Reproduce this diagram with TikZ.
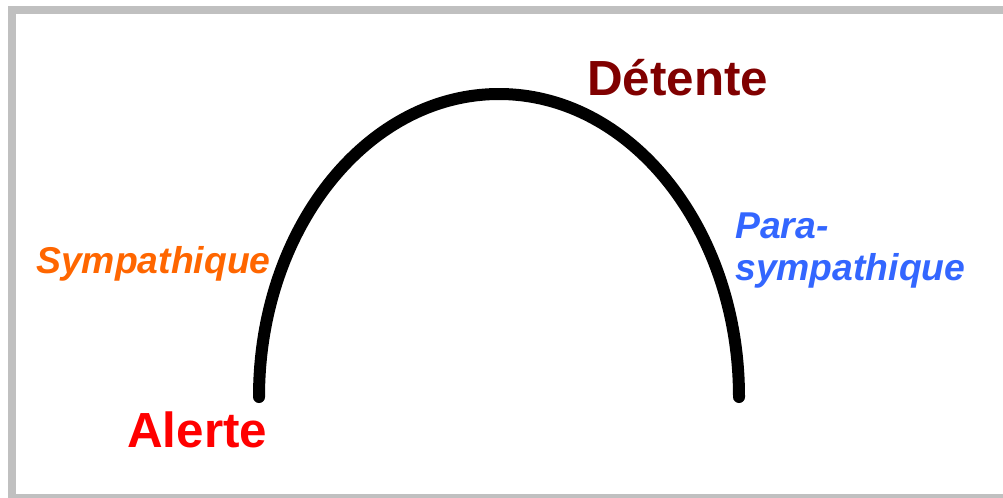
\documentclass[tikz,border=0pt]{standalone}
\usepackage{fontspec}
\setmainfont{Liberation Sans}
\usepackage{tikz}

\begin{document}
\begin{tikzpicture}[x=0.75pt,y=0.75pt,yscale=-1,xscale=1]
\useasboundingbox (0,0) rectangle (1003,497);
\clip (0,0) rectangle (1003,497);

%Straight Lines [frame]
\draw [color={rgb, 255:red, 192; green, 192; blue, 192 }  ,draw opacity=1 ][line width=6.4]  (1003,10) -- (12,10) -- (12,498.5) -- (1003,498.5) ;

%Curve Lines [arch]
\coordinate (alerteEnd) at (259,397);
\draw [line width=9, line cap=round]  (alerteEnd) arc [start angle=180, end angle=360, x radius=240, y radius=303] coordinate (detenteEnd) ;

% Text Node
\draw (587,95) node [anchor=base west][inner sep=0pt]  [color={rgb, 255:red, 128; green, 0; blue, 0 }  ,opacity=1 ,font=\fontsize{37}{44}\selectfont\bfseries] (detente) {Détente};
% Text Node
\draw (127,447) node [anchor=base west][inner sep=0pt]  [color={rgb, 255:red, 255; green, 0; blue, 0 }  ,opacity=1 ,font=\fontsize{37}{44}\selectfont\bfseries] (alerte) {Alerte};
% Text Node
\draw (36,273) node [anchor=base west][inner sep=0pt]  [color={rgb, 255:red, 255; green, 102; blue, 0 }  ,opacity=1 ,font=\fontsize{28}{31}\selectfont\bfseries\itshape] (sympa) {Sympathique};
% Text Node
\draw (735,213) node [anchor=north west][inner sep=0pt][align=left]  [color={rgb, 255:red, 51; green, 102; blue, 255 }  ,opacity=1 ,font=\fontsize{28}{31}\selectfont\bfseries\itshape] (para) {Para-\\sympathique};

\end{tikzpicture}
\end{document}
